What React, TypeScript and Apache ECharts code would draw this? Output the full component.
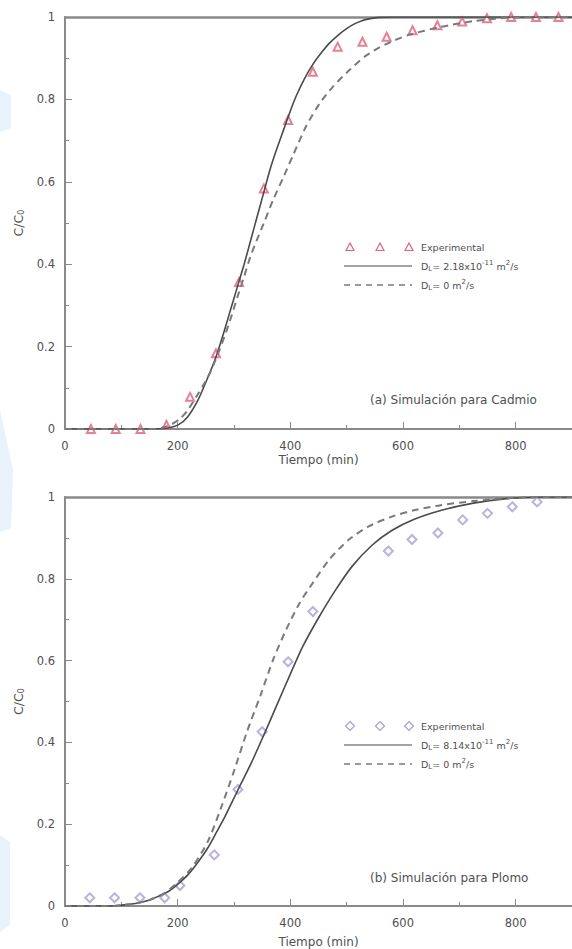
import React, { useEffect, useRef } from 'react';
import * as echarts from 'echarts';

// (a) Cadmio – experimental breakthrough points
const cdTimes = [46, 90, 134, 180, 222, 268, 309, 353, 396, 440, 484, 528, 571, 617, 661, 705, 749, 792, 836, 876];
const cdExp = [0, 0, 0, 0.01, 0.078, 0.184, 0.357, 0.584, 0.75, 0.867, 0.928, 0.94, 0.952, 0.968, 0.98, 0.989, 0.997, 1, 1, 1];

// (a) model with axial dispersion D_L = 2.18x10^-11 m2/s
const cdDispT = [0, 150, 180, 201, 218, 236, 252, 268, 282, 294, 306, 318, 330, 341, 352, 364, 376, 388, 400, 411, 425, 440, 455, 469, 484, 498, 512, 527, 542, 556, 580, 900];
const cdDispC = [0, 0, 0.002, 0.01, 0.03, 0.07, 0.12, 0.175, 0.235, 0.29, 0.345, 0.4, 0.46, 0.515, 0.57, 0.63, 0.68, 0.726, 0.772, 0.81, 0.85, 0.885, 0.913, 0.936, 0.955, 0.97, 0.982, 0.991, 0.996, 0.999, 1, 1];

// (a) model without dispersion
const cdNoDispT = [0, 160, 173, 190, 205, 218, 236, 254, 268, 283, 295, 306, 318, 329, 341, 353, 370, 388, 405, 428, 452, 475, 504, 533, 568, 609, 667, 725, 783, 830, 900];
const cdNoDispC = [0, 0, 0.003, 0.012, 0.026, 0.046, 0.085, 0.127, 0.17, 0.224, 0.272, 0.32, 0.37, 0.418, 0.46, 0.5, 0.558, 0.612, 0.665, 0.735, 0.79, 0.83, 0.87, 0.905, 0.933, 0.956, 0.976, 0.99, 0.998, 1, 1];

// (b) Plomo – experimental breakthrough points
const pbTimes = [44, 88, 133, 177, 204, 265, 307, 350, 396, 440, 574, 616, 662, 706, 750, 794, 838];
const pbExp = [0.02, 0.02, 0.02, 0.02, 0.05, 0.125, 0.285, 0.426, 0.597, 0.72, 0.868, 0.896, 0.912, 0.944, 0.96, 0.976, 0.988];

// (b) model with axial dispersion D_L = 8.14x10^-11 m2/s
const pbDispT = [0, 80, 100, 125, 149, 166, 184, 200, 218, 236, 254, 268, 283, 306, 329, 353, 376, 399, 423, 452, 481, 510, 545, 580, 621, 667, 725, 784, 840, 900];
const pbDispC = [0, 0, 0.002, 0.006, 0.014, 0.024, 0.036, 0.053, 0.076, 0.107, 0.143, 0.178, 0.216, 0.281, 0.345, 0.418, 0.491, 0.564, 0.637, 0.709, 0.774, 0.831, 0.882, 0.918, 0.946, 0.967, 0.985, 0.996, 1, 1];

// (b) model without dispersion
const pbNoDispT = [0, 80, 100, 125, 150, 175, 200, 225, 254, 277, 300, 323, 347, 370, 393, 417, 440, 469, 504, 539, 580, 621, 667, 725, 784, 840, 900];
const pbNoDispC = [0, 0, 0.002, 0.006, 0.015, 0.03, 0.058, 0.093, 0.159, 0.24, 0.33, 0.426, 0.515, 0.604, 0.677, 0.742, 0.79, 0.847, 0.896, 0.928, 0.952, 0.968, 0.98, 0.99, 0.997, 1, 1];

const xTicks = [0, 200, 400, 600, 800];
const yTicks = [0, 0.2, 0.4, 0.6, 0.8, 1];

const FONT = 'DejaVu Sans, Verdana, sans-serif';
const AXIS = '#8a8a8a';
const TEXT = '#505050';
const LINE = '#4a4a4a';
const DASH = '#7a7a7a';
const CD_COLOR = '#e2607a';
const PB_COLOR = '#ab9cd4';

const zip = (a: number[], b: number[]) => a.map((v, i) => [v, b[i]]);

const panelTops = [17, 497];
const PANEL_H = 412;

function xAxes(grid: number, nameGap: number) {
  return [
    {
      gridIndex: grid,
      type: 'value',
      min: 0,
      max: 900,
      interval: 200,
      axisLine: { lineStyle: { color: AXIS, width: 2 } },
      axisTick: { inside: true, length: 7, lineStyle: { color: AXIS, width: 1 } },
      minorTick: { show: true, splitNumber: 2, length: 4, lineStyle: { color: AXIS, width: 1 } },
      axisLabel: {
        color: TEXT,
        fontSize: 11.5,
        fontFamily: FONT,
        margin: 11,
        showMaxLabel: false,
        formatter: (v: number) => (xTicks.includes(v) ? String(v) : ''),
      },
      splitLine: { show: false },
      name: 'Tiempo (min)',
      nameLocation: 'middle',
      nameGap,
      nameTextStyle: { color: TEXT, fontSize: 12, fontFamily: FONT },
    },
    {
      gridIndex: grid,
      type: 'value',
      position: 'top',
      min: 0,
      max: 900,
      axisLine: { show: true, lineStyle: { color: AXIS, width: 2.5 } },
      axisTick: { show: false },
      axisLabel: { show: false },
      splitLine: { show: false },
    },
  ];
}

function yAxis(grid: number) {
  return {
    gridIndex: grid,
    type: 'value',
    min: 0,
    max: 1,
    interval: 0.2,
    axisLine: { show: true, lineStyle: { color: AXIS, width: 2 } },
    axisTick: { show: true, inside: true, length: 7, lineStyle: { color: AXIS, width: 1 } },
    minorTick: { show: true, splitNumber: 2, length: 4, lineStyle: { color: AXIS, width: 1 } },
    axisLabel: {
      color: TEXT,
      fontSize: 11.5,
      fontFamily: FONT,
      margin: 10,
      formatter: (v: number) => {
        const hit = yTicks.find((t) => Math.abs(t - v) < 1e-6);
        return hit === undefined ? '' : String(hit);
      },
    },
    splitLine: { show: false },
    name: 'C/C{s|0}',
    nameLocation: 'middle',
    nameGap: 37,
    nameTextStyle: {
      color: TEXT,
      fontSize: 12.5,
      fontFamily: FONT,
      rich: { s: { fontSize: 8, fontFamily: FONT, color: TEXT, padding: [7, 0, 0, 0] } },
    },
  };
}

function panelSeries(
  grid: number,
  times: number[],
  exp: number[],
  dispT: number[],
  dispC: number[],
  noT: number[],
  noC: number[],
  symbol: string,
  color: string,
  size: number,
) {
  const xi = grid * 2;
  return [
    {
      type: 'scatter',
      xAxisIndex: xi,
      yAxisIndex: grid,
      data: zip(times, exp),
      symbol,
      symbolSize: size,
      itemStyle: { color, borderWidth: 1.1 },
      z: 3,
    },
    {
      type: 'line',
      xAxisIndex: xi,
      yAxisIndex: grid,
      data: zip(dispT, dispC),
      showSymbol: false,
      smooth: 0.25,
      lineStyle: { color: LINE, width: 1.6 },
      z: 4,
    },
    {
      type: 'line',
      xAxisIndex: xi,
      yAxisIndex: grid,
      data: zip(noT, noC),
      showSymbol: false,
      smooth: 0.25,
      lineStyle: { color: DASH, width: 2, type: [7, 5] },
      z: 4,
    },
  ];
}

const legendRich = {
  sub: { fontSize: 7, fontFamily: FONT, fill: TEXT, padding: [5, 0, 0, 0] },
  sup: { fontSize: 7, fontFamily: FONT, fill: TEXT, padding: [0, 0, 6, 0] },
};

function legendGraphics(top: number, marker: 'tri' | 'dia', color: string, dl: string) {
  const items: any[] = [];
  const xs = [350, 380, 409];
  xs.forEach((x) => {
    const y = top;
    const pts =
      marker === 'tri'
        ? [[x - 4, y + 3.5], [x, y - 4], [x + 4, y + 3.5]]
        : [[x, y - 4.5], [x + 4.5, y], [x, y + 4.5], [x - 4.5, y]];
    items.push({
      type: 'polygon',
      shape: { points: pts },
      style: { fill: 'none', stroke: color, lineWidth: 1.2 },
      z: 10,
    });
  });
  items.push({
    type: 'line',
    shape: { x1: 344, y1: top + 19, x2: 412, y2: top + 19 },
    style: { stroke: LINE, lineWidth: 1.2 },
    z: 10,
  });
  items.push({
    type: 'line',
    shape: { x1: 344, y1: top + 38, x2: 412, y2: top + 38 },
    style: { stroke: DASH, lineWidth: 1.6, lineDash: [6, 5] },
    z: 10,
  });
  const labels = [
    'Experimental',
    `D{sub|L}= ${dl}x10{sup|-11} m{sup|2}/s`,
    'D{sub|L}= 0 m{sup|2}/s',
  ];
  labels.forEach((t, i) => {
    items.push({
      type: 'text',
      x: 421,
      y: top + i * 19,
      style: {
        text: t,
        rich: legendRich,
        fontSize: 9.5,
        fontFamily: FONT,
        fill: TEXT,
        verticalAlign: 'middle',
        align: 'left',
      },
      z: 10,
    });
  });
  return items;
}

// pale background wedges along the left margin
const wedges = [
  [[0, 90], [11, 95], [11, 128], [0, 132]],
  [[0, 410], [13, 470], [11, 528], [0, 532]],
  [[0, 835], [10, 842], [10, 925], [0, 932]],
];

export default function App() {
  const ref = useRef<HTMLDivElement>(null);

  useEffect(() => {
    if (!ref.current) return;
    const chart = echarts.init(ref.current, undefined, { renderer: 'svg' });

    const graphic: any[] = [
      ...wedges.map((pts) => ({
        type: 'polygon',
        shape: { points: pts },
        style: { fill: '#e7f2fb' },
        z: -1,
      })),
      ...legendGraphics(247, 'tri', CD_COLOR, '2.18'),
      ...legendGraphics(726, 'dia', PB_COLOR, '8.14'),
      {
        type: 'text',
        x: 370,
        y: 400,
        style: {
          text: '(a) Simulación para Cadmio',
          fontSize: 12,
          fontFamily: FONT,
          fill: TEXT,
          verticalAlign: 'middle',
        },
        z: 10,
      },
      {
        type: 'text',
        x: 370,
        y: 878,
        style: {
          text: '(b) Simulación para Plomo',
          fontSize: 12,
          fontFamily: FONT,
          fill: TEXT,
          verticalAlign: 'middle',
        },
        z: 10,
      },
    ];

    chart.setOption({
      animation: false,
      backgroundColor: '#ffffff',
      grid: panelTops.map((top) => ({ left: 65, right: -9, top, height: PANEL_H })),
      xAxis: [...xAxes(0, 25), ...xAxes(1, 30)],
      yAxis: [yAxis(0), yAxis(1)],
      series: [
        ...panelSeries(0, cdTimes, cdExp, cdDispT, cdDispC, cdNoDispT, cdNoDispC, 'emptyTriangle', CD_COLOR, 8),
        ...panelSeries(1, pbTimes, pbExp, pbDispT, pbDispC, pbNoDispT, pbNoDispC, 'emptyDiamond', PB_COLOR, 9),
      ],
      graphic,
    });

    return () => chart.dispose();
  }, []);

  return (
    <div
      ref={ref}
      style={{ position: 'fixed', left: 0, top: 0, width: 572, height: 949, background: '#fff' }}
    />
  );
}
